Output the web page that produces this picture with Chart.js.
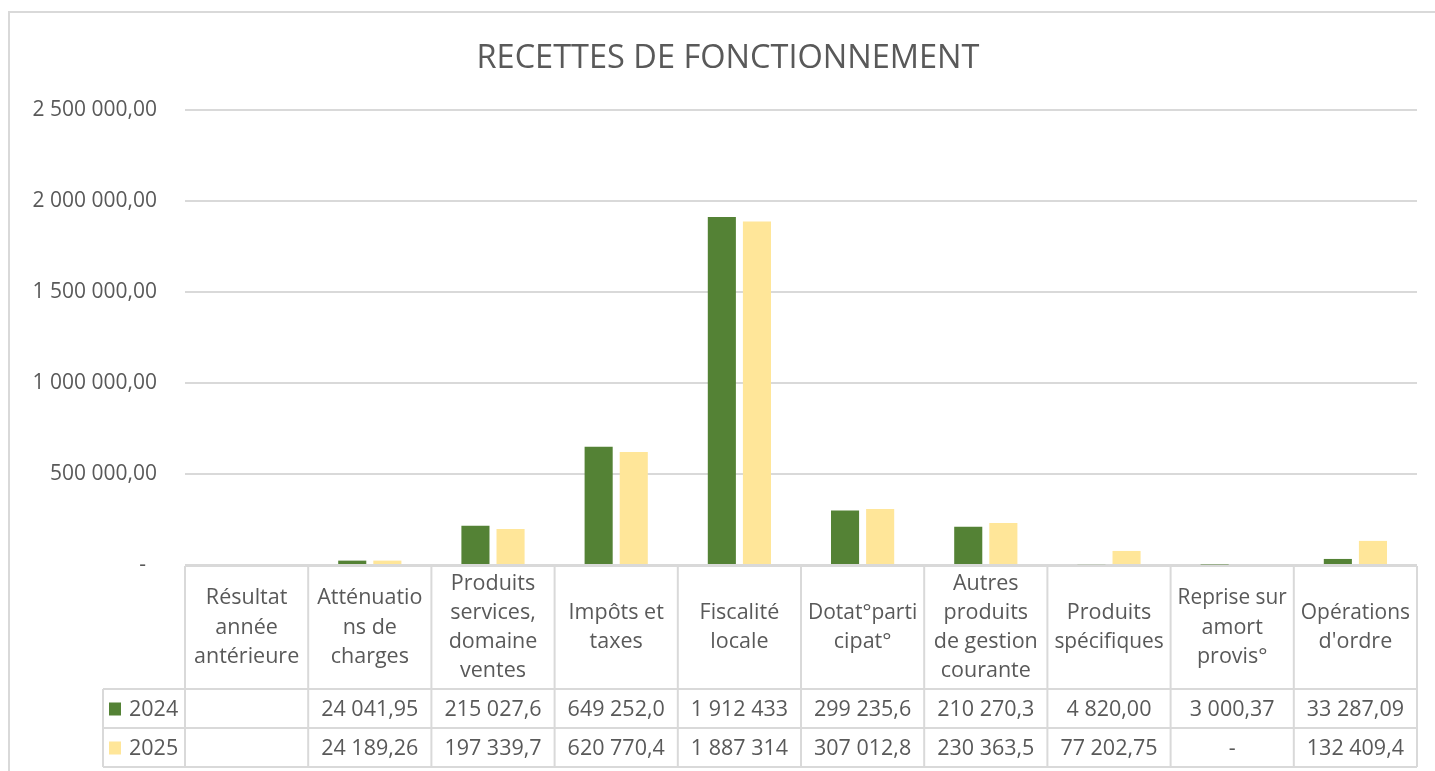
<!DOCTYPE html>
<html><head><meta charset="utf-8">
<script src="https://cdn.jsdelivr.net/npm/chart.js@4.4.1/dist/chart.umd.min.js"></script>
<style>html,body{margin:0;padding:0;background:#fff;overflow:hidden;} #wrap{width:1435px;height:771px;position:relative;}</style>
</head><body><div id="wrap"><canvas id="c" width="1435" height="771"></canvas></div>
<script>
const chartTitle = 'RECETTES DE FONCTIONNEMENT';
const categories = [
  ['Résultat','année','antérieure'],
  ['Atténuatio','ns de','charges'],
  ['Produits','services,','domaine','ventes'],
  ['Impôts et','taxes'],
  ['Fiscalité','locale'],
  ['Dotat°parti','cipat°'],
  ['Autres','produits','de gestion','courante'],
  ['Produits','spécifiques'],
  ['Reprise sur','amort','provis°'],
  ['Opérations',"d'ordre"]
];
const seriesNames = ['2024', '2025'];
const seriesColors = ['#548235', '#FFE699'];
const values2024 = [null, 24041.95, 215027.6, 649252.0, 1912433, 299235.6, 210270.3, 4820.00, 3000.37, 33287.09];
const values2025 = [null, 24189.26, 197339.7, 620770.4, 1887314, 307012.8, 230363.5, 77202.75, 0, 132409.4];
const table2024 = ['', '24 041,95', '215 027,6', '649 252,0', '1 912 433', '299 235,6', '210 270,3', '4 820,00', '3 000,37', '33 287,09'];
const table2025 = ['', '24 189,26', '197 339,7', '620 770,4', '1 887 314', '307 012,8', '230 363,5', '77 202,75', '-', '132 409,4'];
const yMax = 2500000;
const yStep = 500000;

const FONT = '"Open Sans", "DejaVu Sans", sans-serif';
const TEXT = '#595959';
const LINE = '#d9d9d9';

function fmtTick(v) {
  if (v === 0) return '-  ';
  const parts = v.toFixed(2).split('.');
  const intPart = parts[0].replace(/\B(?=(\d{3})+(?!\d))/g, ' ');
  return intPart + ',' + parts[1];
}

const framePlugin = {
  id: 'frame',
  beforeDraw(chart) {
    const ctx = chart.ctx;
    ctx.save();
    ctx.fillStyle = '#fff';
    ctx.fillRect(0, 0, chart.width, chart.height);
    ctx.strokeStyle = LINE;
    ctx.lineWidth = 2;
    ctx.strokeRect(9, 12, 1460, 800);
    ctx.fillStyle = TEXT;
    ctx.font = '33.5px ' + FONT;
    ctx.textAlign = 'center';
    ctx.textBaseline = 'alphabetic';
    ctx.fillText(chartTitle, 728, 68, 503);
    ctx.restore();
  }
};

const tablePlugin = {
  id: 'dataTable',
  afterDraw(chart) {
    const ctx = chart.ctx, xs = chart.scales.x, area = chart.chartArea;
    const n = categories.length;
    const cw = (area.right - area.left) / n;
    const top = area.bottom + 1;
    const hdrB = top + 123, r1B = hdrB + 39, r2B = r1B + 39;
    const legL = 103;
    ctx.save();
    ctx.strokeStyle = LINE;
    ctx.lineWidth = 2;
    const line = (x1, y1, x2, y2) => { ctx.beginPath(); ctx.moveTo(x1, y1); ctx.lineTo(x2, y2); ctx.stroke(); };
    line(area.left, top, area.right, top);
    line(legL, hdrB, area.right, hdrB);
    line(legL, r1B, area.right, r1B);
    line(legL, r2B, area.right, r2B);
    for (let i = 0; i <= n; i++) {
      const xx = (i < n ? xs.getPixelForValue(i) - cw / 2 : xs.getPixelForValue(n - 1) + cw / 2);
      line(xx, top, xx, r2B);
    }
    line(legL, hdrB, legL, r2B);

    ctx.fillStyle = TEXT;
    ctx.font = '21.5px ' + FONT;
    ctx.textAlign = 'center';
    ctx.textBaseline = 'middle';
    const lh = 29.2;
    const hc = (top + hdrB) / 2;
    const mw = cw - 14;
    categories.forEach((lines, i) => {
      const cx = xs.getPixelForValue(i);
      const y0 = hc - (lines.length - 1) * lh / 2;
      lines.forEach((t, k) => ctx.fillText(t, cx, y0 + k * lh, mw));
    });
    const rows = [table2024, table2025];
    const rowC = [(hdrB + r1B) / 2, (r1B + r2B) / 2];
    rows.forEach((row, r) => {
      row.forEach((t, i) => {
        ctx.fillText(t, xs.getPixelForValue(i), rowC[r] + 1, mw);
      });
      ctx.fillStyle = seriesColors[r];
      ctx.fillRect(109, rowC[r] - 6, 12, 13);
      ctx.fillStyle = TEXT;
      ctx.textAlign = 'left';
      ctx.fillText(seriesNames[r], 129, rowC[r] + 1);
      ctx.textAlign = 'center';
    });
    ctx.restore();
  }
};

new Chart(document.getElementById('c'), {
  type: 'bar',
  data: {
    labels: categories.map(c => c.join(' ')),
    datasets: [
      { label: seriesNames[0], data: values2024, backgroundColor: seriesColors[0], borderWidth: 0,
        categoryPercentage: 0.57, barPercentage: 0.8 },
      { label: seriesNames[1], data: values2025, backgroundColor: seriesColors[1], borderWidth: 0,
        categoryPercentage: 0.57, barPercentage: 0.8 }
    ]
  },
  options: {
    responsive: false,
    animation: false,
    layout: { padding: { top: 110, bottom: 206, left: 0, right: 18 } },
    plugins: { legend: { display: false }, title: { display: false }, tooltip: { enabled: false } },
    scales: {
      x: { display: false },
      y: {
        min: 0, max: yMax,
        afterFit(scale) { scale.width = 185; },
        ticks: { stepSize: yStep, padding: 28, color: TEXT, font: { family: FONT, size: 21 }, callback: v => fmtTick(v) },
        grid: { color: LINE, lineWidth: 2, drawTicks: false },
        border: { display: false }
      }
    }
  },
  plugins: [framePlugin, tablePlugin]
});
</script>
</body></html>
